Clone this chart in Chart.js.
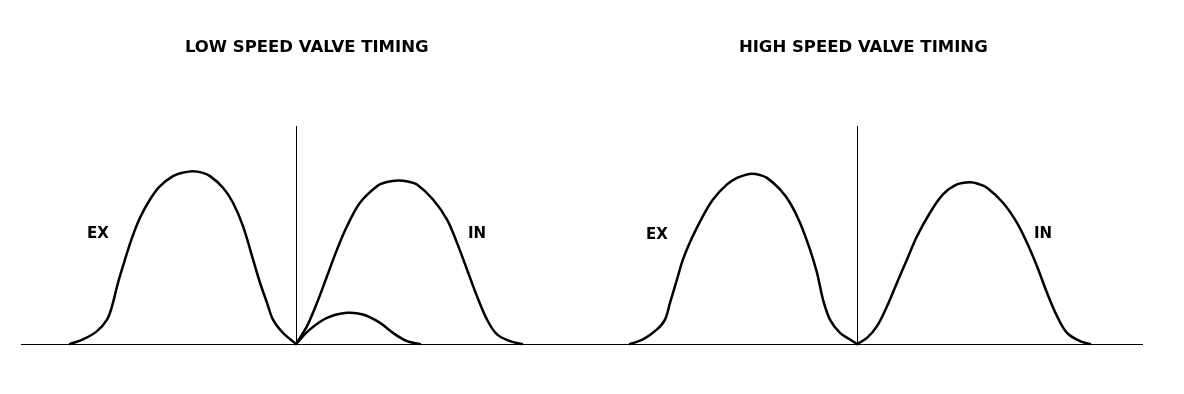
<!DOCTYPE html>
<html>
<head>
<meta charset="utf-8">
<title>Valve Timing</title>
<script src="https://cdn.jsdelivr.net/npm/chart.js@4/dist/chart.umd.min.js"></script>
<style>
  html, body { margin: 0; padding: 0; background: #fff; }
  #wrap { position: relative; width: 1184px; height: 394px; overflow: hidden; background: #fff; }
  #wrap canvas { position: absolute; top: 0; }
  #low { left: 0; }
  #high { left: 582px; }
</style>
</head>
<body>
<div id="wrap">
  <canvas id="low" width="613" height="394"></canvas>
  <canvas id="high" width="602" height="394"></canvas>
</div>
<script>
// Panel headings
const lowTitle = 'LOW SPEED VALVE TIMING';
const highTitle = 'HIGH SPEED VALVE TIMING';

// Crank angle (deg, 0 = TDC) and valve lift (mm), low-speed cams
const lowExAngle = [-226, -213, -199, -189, -184, -178, -171, -164, -156, -146, -136, -123, -113, -103, -94, -86, -73, -63, -53, -43, -36, -29, -23, -13, 0];
const lowExLift  = [0, 0.21, 0.59, 1.12, 1.73, 2.81, 3.88, 4.87, 5.79, 6.63, 7.24, 7.70, 7.86, 7.93, 7.86, 7.70, 7.17, 6.48, 5.41, 3.88, 2.81, 1.89, 1.12, 0.51, 0];

const lowInAngle = [0, 11, 21, 31, 41, 51, 64, 81, 91, 102, 112, 121, 137, 151, 161, 171, 181, 191, 201, 214, 226];
const lowInLift  = [0, 0.82, 1.89, 3.11, 4.33, 5.40, 6.48, 7.24, 7.43, 7.50, 7.45, 7.32, 6.63, 5.71, 4.64, 3.42, 2.19, 1.12, 0.44, 0.13, 0];

// Secondary intake valve, barely opened at low speed
const lowSecAngle = [0, 14, 31, 51, 67, 84, 97, 111, 124];
const lowSecLift  = [0, 0.67, 1.20, 1.43, 1.35, 0.97, 0.51, 0.13, 0];

// High-speed cam
const highExAngle = [-227, -214, -200, -192, -187, -180, -174, -165, -155, -144, -130, -120, -112, -105, -97, -90, -77, -67, -57, -47, -40, -34, -27, -17, -7, 0];
const highExLift  = [0, 0.21, 0.67, 1.12, 1.89, 2.96, 3.88, 4.87, 5.79, 6.63, 7.32, 7.62, 7.75, 7.81, 7.75, 7.62, 7.09, 6.48, 5.56, 4.33, 3.27, 2.04, 1.12, 0.51, 0.21, 0];

const highInAngle = [0, 10, 20, 30, 40, 50, 60, 73, 86, 100, 113, 121, 130, 146, 160, 170, 180, 190, 200, 210, 223, 233];
const highInLift  = [0, 0.28, 0.82, 1.73, 2.81, 3.88, 4.94, 6.02, 6.86, 7.32, 7.42, 7.35, 7.17, 6.48, 5.56, 4.64, 3.57, 2.35, 1.28, 0.51, 0.13, 0];

// Curve names and where they are written (angle, lift)
const curveNames = ['EX', 'IN'];
const lowNameAngle = [-198, 181];
const lowNameLift = [5.05, 5.05];
const highNameAngle = [-200, 186];
const highNameLift = [5.0, 5.05];

const zip = (xs, ys) => xs.map((x, i) => ({ x, y: ys[i] }));

function curve(xs, ys) {
  return {
    data: zip(xs, ys),
    borderColor: '#000',
    borderWidth: 2.5,
    pointRadius: 0,
    tension: 0.35,
    borderJoinStyle: 'round',
    borderCapStyle: 'round',
    fill: false,
    clip: false
  };
}

// Heading drawn above each panel
const panelHeading = {
  id: 'panelHeading',
  afterDraw(chart, args, opts) {
    const ctx = chart.ctx;
    ctx.save();
    ctx.font = 'bold 16.5px "DejaVu Sans"';
    ctx.fillStyle = '#000';
    ctx.textAlign = 'center';
    ctx.textBaseline = 'middle';
    ctx.fillText(opts.text, opts.x, opts.y);
    ctx.restore();
  }
};

// EX / IN names placed in angle/lift coordinates
const curveNameLabels = {
  id: 'curveNameLabels',
  afterDatasetsDraw(chart, args, opts) {
    const ctx = chart.ctx;
    const xs = chart.scales.x, ys = chart.scales.y;
    ctx.save();
    ctx.font = 'bold 15px "DejaVu Sans"';
    ctx.fillStyle = '#000';
    ctx.textAlign = 'center';
    ctx.textBaseline = 'middle';
    opts.names.forEach((name, i) => {
      ctx.fillText(name, xs.getPixelForValue(opts.angle[i]), ys.getPixelForValue(opts.lift[i]));
    });
    ctx.restore();
  }
};

function makeChart(id, datasets, heading, nameAngle, nameLift, pad) {
  return new Chart(document.getElementById(id), {
    type: 'line',
    data: { datasets },
    options: {
      responsive: false,
      animation: false,
      events: [],
      layout: { padding: pad },
      scales: {
        x: {
          type: 'linear',
          min: -275,
          max: 285,
          position: { y: 0 },
          grid: { display: false },
          ticks: { display: false },
          border: { display: true, color: '#000', width: 1 }
        },
        y: {
          type: 'linear',
          min: 0,
          max: 10,
          position: { x: 0 },
          grid: { display: false },
          ticks: { display: false },
          border: { display: true, color: '#000', width: 1 }
        }
      },
      plugins: {
        legend: { display: false },
        tooltip: { enabled: false },
        title: { display: false },
        panelHeading: heading,
        curveNameLabels: { names: curveNames, angle: nameAngle, lift: nameLift }
      }
    },
    plugins: [panelHeading, curveNameLabels]
  });
}

makeChart('low',
  [curve(lowExAngle, lowExLift), curve(lowInAngle, lowInLift), curve(lowSecAngle, lowSecLift)],
  { text: lowTitle, x: 306.7, y: 48 },
  lowNameAngle, lowNameLift,
  { left: 21, right: 32, top: 126, bottom: 50 });

makeChart('high',
  [curve(highExAngle, highExLift), curve(highInAngle, highInLift)],
  { text: highTitle, x: 281.3, y: 48 },
  highNameAngle, highNameLift,
  { left: 0, right: 42, top: 126, bottom: 50 });
</script>
</body>
</html>
